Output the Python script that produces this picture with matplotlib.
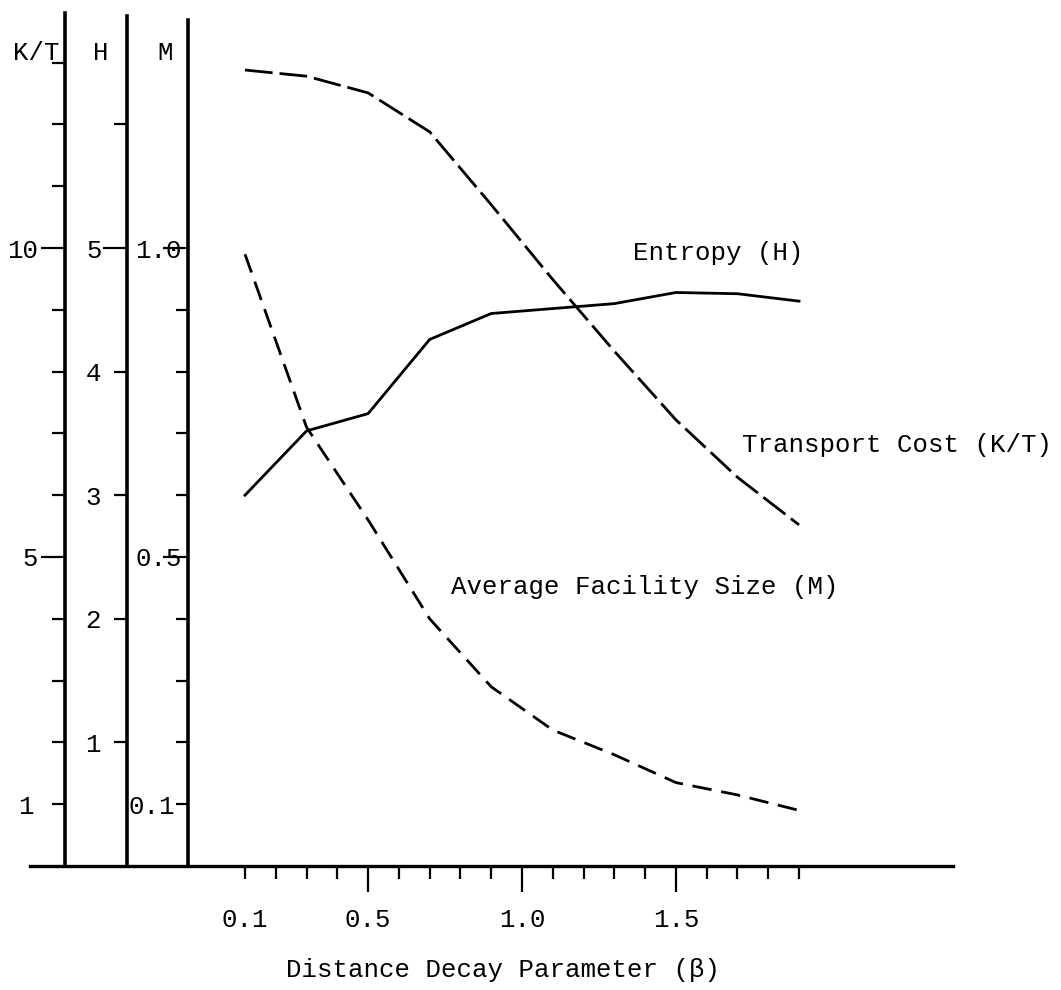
import matplotlib
matplotlib.use("Agg")
import matplotlib.pyplot as plt

# ---------------- data ----------------
beta = [0.1, 0.3, 0.5, 0.7, 0.9, 1.1, 1.3, 1.5, 1.7, 1.9]
transport_cost = [12.88, 12.78, 12.51, 11.88, 10.70, 9.49, 8.33, 7.22, 6.29, 5.52]   # K/T
entropy = [3.00, 3.52, 3.66, 4.26, 4.47, 4.51, 4.55, 4.64, 4.63, 4.57]             # H
facility_size = [0.99, 0.71, 0.56, 0.40, 0.29, 0.22, 0.18, 0.135, 0.115, 0.09]     # M

x_major_ticks = [0.5, 1.0, 1.5]
x_major_labels = ["0.5", "1.0", "1.5"]
x_minor_ticks = [0.1, 0.2, 0.3, 0.4, 0.6, 0.7, 0.8, 0.9, 1.1, 1.2, 1.3, 1.4, 1.6, 1.7, 1.8, 1.9]
x_minor_labels = ["0.1"] + [""] * 15

kt_major_ticks, kt_major_labels = [5, 10], ["5", "10"]
kt_minor_ticks = [1, 2, 3, 4, 6, 7, 8, 9, 11, 12, 13]
kt_minor_labels = ["1"] + [""] * 10

h_major_ticks, h_major_labels = [5], ["5"]
h_minor_ticks = [1, 2, 3, 4, 6]
h_minor_labels = ["1", "2", "3", "4", ""]

m_major_ticks, m_major_labels = [0.5, 1.0], ["0.5", "1.0"]
m_minor_ticks = [0.1, 0.2, 0.3, 0.4, 0.6, 0.7, 0.8, 0.9]
m_minor_labels = ["0.1"] + [""] * 7

# ---------------- layout ----------------
W, Hh = 1061, 990
PT = 0.72  # points per pixel at dpi 100
FONT = "Liberation Mono"
FS = 18.5
plt.rcParams["font.family"] = [FONT, "DejaVu Sans Mono", "DejaVu Sans"]

fig = plt.figure(figsize=(W / 100, Hh / 100), dpi=100)
fig.patch.set_facecolor("white")

BASE = 866       # pixel row of the baseline
PXU = 61.8       # pixels per K/T unit
X0PX = 214.2     # pixel column of beta = 0
XPXU = 307.8     # pixels per beta unit


def fx(p):
    return p / W


def fy(p):
    return 1 - p / Hh


# main axes (x axis + curves in K/T units)
left_px, right_px, top_px = 30, 953, 15
ax = fig.add_axes([fx(left_px), fy(BASE), fx(right_px) - fx(left_px), (BASE - top_px) / Hh])
ax.set_xlim((left_px - X0PX) / XPXU, (right_px - X0PX) / XPXU)
ytop = (BASE - top_px) / PXU
ax.set_ylim(0, ytop)
for s in ["top", "right", "left"]:
    ax.spines[s].set_visible(False)
ax.spines["bottom"].set_linewidth(2.4)
ax.set_yticks([])
ax.set_xticks(x_major_ticks, x_major_labels)
ax.set_xticks(x_minor_ticks, x_minor_labels, minor=True)
ax.tick_params(axis="x", which="major", length=26 * PT, width=1.6, pad=16 * PT,
               labelsize=FS, direction="out")
ax.tick_params(axis="x", which="minor", length=13 * PT, width=1.6, pad=29 * PT,
               labelsize=FS, direction="out")
ax.set_xlabel("Distance Decay Parameter (β)", fontsize=FS)
ax.xaxis.set_label_coords((503 - left_px) / (right_px - left_px), -(958 - BASE) / (BASE - top_px))

# twin axes for H and M, sharing pixel scale
axH = ax.twinx()
axH.set_ylim(0, ytop / 2)
axH.axis("off")
axM = ax.twinx()
axM.set_ylim(0, ytop / 10)
axM.axis("off")

lw = 2.0
ax.plot(beta, transport_cost, color="black", lw=lw, dashes=(10, 2.5))
axH.plot(beta, entropy, color="black", lw=lw)
axM.plot(beta, facility_size, color="black", lw=lw, dashes=(7, 3.5))

# curve labels
ax.text((633 - X0PX) / XPXU, (BASE - 253) / PXU, "Entropy (H)", fontsize=FS, va="center", ha="left")
ax.text((742 - X0PX) / XPXU, (BASE - 445) / PXU, "Transport Cost (K/T)", fontsize=FS, va="center", ha="left")
ax.text((451 - X0PX) / XPXU, (BASE - 587) / PXU, "Average Facility Size (M)", fontsize=FS, va="center", ha="left")


# the three vertical scales; scale = pixels per unit relative to K/T
def vaxis(xpx, toppx, scale, majt, majl, mint, minl, majlen, majpad, minlen, minpad):
    a = fig.add_axes([fx(xpx), fy(BASE), 0.0005, (BASE - toppx) / Hh])
    a.set_ylim(0, (BASE - toppx) / (PXU * scale))
    a.set_xticks([])
    for s in ["top", "right", "bottom"]:
        a.spines[s].set_visible(False)
    a.spines["left"].set_linewidth(2.6)
    a.patch.set_alpha(0)
    a.set_yticks(majt, majl)
    a.set_yticks(mint, minl, minor=True)
    a.tick_params(axis="y", which="major", length=majlen * PT, width=1.6, pad=majpad * PT, labelsize=FS)
    a.tick_params(axis="y", which="minor", length=minlen * PT, width=1.6, pad=minpad * PT, labelsize=FS)
    return a


vaxis(65, 13, 1, kt_major_ticks, kt_major_labels, kt_minor_ticks, kt_minor_labels, 24, 3, 13, 18)
vaxis(127, 16, 2, h_major_ticks, h_major_labels, h_minor_ticks, h_minor_labels, 24, 1, 13, 13)
vaxis(188, 20, 10, m_major_ticks, m_major_labels, m_minor_ticks, m_minor_labels, 25, -19, 12, 1)

# axis titles at the top of the vertical scales
for txt, xc in [("K/T", 36), ("H", 101), ("M", 165)]:
    fig.text(fx(xc), fy(53), txt, fontsize=FS, ha="center", va="center")

fig.savefig("out.png", dpi=100, facecolor="white")
